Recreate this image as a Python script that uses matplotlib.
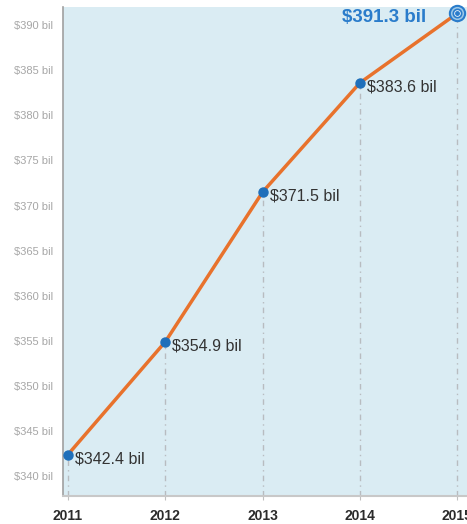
import matplotlib
matplotlib.use("Agg")
import matplotlib.pyplot as plt

years = [2011, 2012, 2013, 2014, 2015]
values = [342.4, 354.9, 371.5, 383.6, 391.3]
labels = ["$342.4 bil", "$354.9 bil", "$371.5 bil", "$383.6 bil", "$391.3 bil"]
yticks = [340, 345, 350, 355, 360, 365, 370, 375, 380, 385, 390]

plt.rcParams['font.family'] = ['Liberation Sans', 'DejaVu Sans']

fig = plt.figure(figsize=(4.67, 5.24), dpi=100)
ax = fig.add_axes([0.135, 0.0534, 0.865, 0.9332])
ax.set_facecolor('#daecf3')

# dashed drop lines
for x, y in zip(years, values):
    ax.plot([x, x], [337.8, y], color='#b8bcc0', lw=1, ls=(0, (4, 3, 1, 3)), zorder=1)

ax.plot(years, values, color='#e8722c', lw=2.5, zorder=2, solid_capstyle='round')
ax.plot(years[:-1], values[:-1], 'o', color='#1f6fba', ms=6.5, zorder=3)
# highlighted last point
ax.plot(years[-1], values[-1], 'o', ms=11, mfc='#9cc8e8', mec='#2a7ccb', mew=1.5, zorder=3, clip_on=False)
ax.plot(years[-1], values[-1], 'o', ms=6, mfc='#e8f2fa', mec='#2a7ccb', mew=1.2, zorder=4, clip_on=False)
ax.plot(years[-1], values[-1], 'o', ms=2.5, color='#2a7ccb', zorder=5, clip_on=False)

for x, y, t in zip(years[:-1], values[:-1], labels[:-1]):
    ax.annotate(t, (x, y), xytext=(5, -3), textcoords='offset points',
                ha='left', va='center', fontsize=11.5, color='#333333', zorder=6)
ax.annotate(labels[-1], (years[-1], values[-1]), xytext=(-22, -3), textcoords='offset points',
            ha='right', va='center', fontsize=13.5, fontweight='bold', color='#2a7ccb')

ax.set_xlim(2010.949, 2015.1)
ax.set_ylim(337.8, 392.0)
ax.set_yticks(yticks)
ax.set_yticklabels(["$%d bil" % v for v in yticks], fontsize=8, color='#a6a6a6')
ax.set_xticks(years)
ax.set_xticklabels([str(y) for y in years], fontsize=10, fontweight='bold', color='#2b2b2b')
ax.tick_params(axis='y', length=0, pad=7)
ax.tick_params(axis='x', length=3, color='#c0c0c0', pad=6)

for s in ['top', 'right']:
    ax.spines[s].set_visible(False)
ax.spines['left'].set_color('#a0a0a0')
ax.spines['left'].set_linewidth(1.2)
ax.spines['bottom'].set_color('#c8c8c8')
ax.spines['bottom'].set_linewidth(1.5)

fig.savefig('out.png', dpi=100)
